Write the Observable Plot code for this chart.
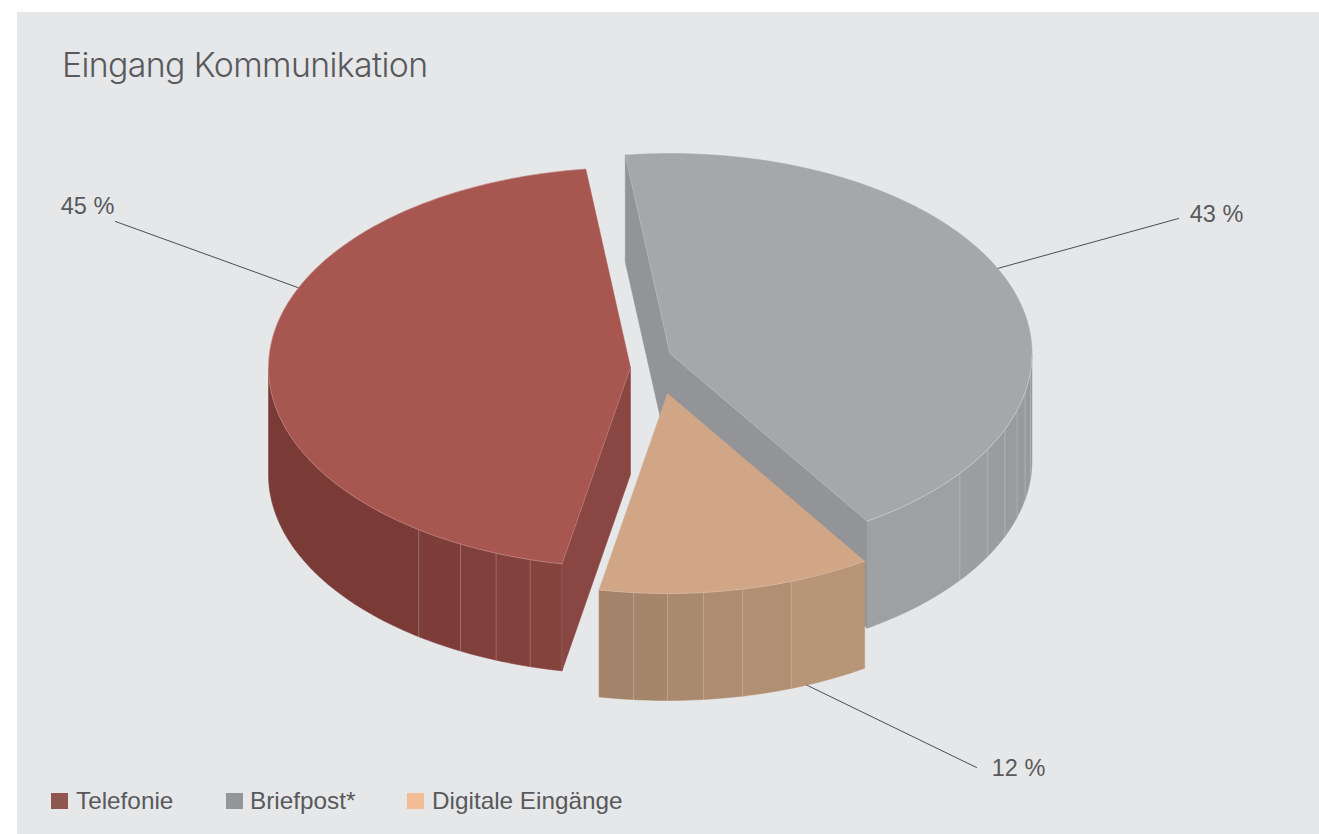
<!DOCTYPE html>
<html lang="de">
<head>
<meta charset="utf-8">
<script src="https://cdn.jsdelivr.net/npm/d3@7"></script>
<script src="https://cdn.jsdelivr.net/npm/@observablehq/plot@0.6"></script>
<style>
  html, body { margin: 0; padding: 0; background: #fff; }
  #panel { position: absolute; left: 17px; top: 12px; width: 1302px; height: 822px; background: #e6e7e9; color: #58595b; overflow: hidden; }
  #title { position: absolute; left: 45px; top: 30px; font: 300 33.8px/46px "Inter", sans-serif; letter-spacing: -0.6px; white-space: nowrap; }
  #chart { position: absolute; left: 0; top: 88px; }
  #legend { position: absolute; left: 34px; top: 775px; height: 28px; font: 24px/28px "Liberation Sans", sans-serif; }
  #legend span { position: absolute; top: 0; white-space: nowrap; transform: scaleX(1.013); transform-origin: left center; }
  #legend i { position: absolute; top: 6px; width: 17px; height: 16px; }
</style>
</head>
<body>
<div id="panel">
  <div id="title">Eingang Kommunikation</div>
  <div id="chart"></div>
  <div id="legend"></div>
</div>
<script>
// --- data ---
const categories = ["Telefonie", "Briefpost*", "Digitale Eingänge"];
const shares = [45, 42.8, 12.2];
const shareLabels = ["45 %", "43 %", "12 %"];
const legendColors = ["#8f564f", "#939598", "#f2bd94"];
const legendLefts = [34, 209, 390];
const legendGaps = [25, 24, 25];

// facet boundaries on the outer wall (degrees around the ellipse)
const facetsTelefonie = [100.9, 106.1, 111.8, 118, 125.8, 180];
const facetsBriefpost = [57, 36.8, 28.6, 22.3, 16.5, 11.2, 5, 0];
const facetsDigital = [57, 70, 78, 84.3, 90, 95.4, 100.9];

// top / cut wall / facet colours
const topColors = ["#a85750", "#a6a7aa", "#d1a686"];
const cutColors = ["#8a4643", "#939497", null];
const wallTelefonie = ["#85433e", "#83413d", "#813f3b", "#7f3d39", "#7a3a35"];
const wallBriefpost = ["#9fa0a3", "#9d9ea1", "#9b9c9f", "#9a9b9e", "#999a9d", "#98999c", "#97989b"];
const wallDigital = ["#b79576", "#b18f72", "#ae8c6f", "#aa8a6e", "#a6866b", "#a3846a"];

// pie geometry in page units
const centers = [[630, 367], [669.5, 353], [667, 393]];
const rx = 362, ry = 200, depth = 107, startAngle = -97.1;

// leader lines: [from, to] in page units and label anchors
const leaderStart = [[115, 221], [1178, 218], [976, 767]];
const leaderEnd = [[300, 288], [997, 268], [805, 684]];
const labelAt = [[87, 206], [1216, 214], [1018, 768]];

// --- slice construction ---
const rad = d => d * Math.PI / 180;
const at = (c, t, dz = 0) => ({x: c[0] + rx * Math.cos(rad(t)), y: c[1] + ry * Math.sin(rad(t)) + dz});
const arc = (c, a, b, dz = 0) => {
  const n = Math.max(2, Math.ceil(Math.abs(b - a)));
  return d3.range(n + 1).map(i => at(c, a + (b - a) * i / n, dz));
};
const apex = (c, dz = 0) => ({x: c[0], y: c[1] + dz});

// order in the picture: Briefpost from the top clockwise, Digitale next, Telefonie last
const order = [1, 2, 0];
let t = startAngle;
const angle = {};
for (const i of order) { angle[i] = [t, t + shares[i] * 3.6]; t += shares[i] * 3.6; }

const poly = (pts, fill) => Plot.line([...pts, pts[0]], {x: "x", y: "y", fill, stroke: fill, strokeWidth: 0.5, curve: "linear"});
const edge = (pts, o = 0.4, w = 0.8) => Plot.line(pts, {x: "x", y: "y", stroke: "#ffffff", strokeOpacity: o, strokeWidth: w, curve: "linear"});
const wall = (c, a, b) => [...arc(c, a, b), ...arc(c, b, a, depth)];

const marks = [];
// leader lines sit behind the pie
categories.forEach((_, i) => {
  marks.push(Plot.line([
    {x: leaderStart[i][0], y: leaderStart[i][1]},
    {x: leaderEnd[i][0], y: leaderEnd[i][1]}
  ], {x: "x", y: "y", stroke: "#4d4d4f", strokeWidth: 1}));
});

// Telefonie
{
  const c = centers[0], [a, b] = angle[0];
  facetsTelefonie.slice(0, -1).forEach((f, j) => marks.push(poly(wall(c, f, facetsTelefonie[j + 1]), wallTelefonie[j])));
  facetsTelefonie.slice(0, -1).forEach(f => marks.push(edge([at(c, f), at(c, f, depth)], 0.22, 1)));
  const p = at(c, a);
  marks.push(poly([apex(c), p, at(c, a, depth), apex(c, depth)], cutColors[0]));
  marks.push(poly([apex(c), ...arc(c, a, b)], topColors[0]));
  marks.push(edge([...arc(c, a, b)], 0.25));
  marks.push(edge([apex(c), p], 0.2));
}
// Briefpost
{
  const c = centers[1], [a, b] = angle[1];
  facetsBriefpost.slice(0, -1).forEach((f, j) => marks.push(poly(wall(c, f, facetsBriefpost[j + 1]), wallBriefpost[j])));
  facetsBriefpost.slice(0, -1).forEach(f => marks.push(edge([at(c, f), at(c, f, depth)], 0.2, 1)));
  marks.push(poly([at(c, a), apex(c), apex(c, depth), at(c, a, depth)], cutColors[1]));
  marks.push(poly([apex(c), at(c, b), at(c, b, depth), apex(c, depth)], cutColors[1]));
  marks.push(poly([apex(c), ...arc(c, a, b)], topColors[1]));
  marks.push(edge(arc(c, 0, b), 0.4));
  marks.push(edge([apex(c), at(c, b)], 0.2));
  marks.push(edge([apex(c), at(c, a)], 0.2));
}
// Digitale Eingänge
{
  const c = centers[2], [a, b] = angle[2];
  facetsDigital.slice(0, -1).forEach((f, j) => marks.push(poly(wall(c, f, facetsDigital[j + 1]), wallDigital[j])));
  facetsDigital.slice(1, -1).forEach(f => marks.push(edge([at(c, f), at(c, f, depth)], 0.2, 1)));
  marks.push(poly([apex(c), ...arc(c, a, b)], topColors[2]));
  marks.push(edge(arc(c, a, b), 0.2));
}
// value labels
marks.push(Plot.text(shareLabels.map((s, i) => ({s, x: labelAt[i][0], y: labelAt[i][1]})), {
  x: "x", y: "y", text: "s", fill: "#58595b", fontSize: 23.5, fontFamily: "Liberation Sans", textAnchor: "middle"
}));

const svgTop = 100, svgHeight = 680;
const plot = Plot.plot({
  width: 1302, height: svgHeight,
  margin: 0, marginTop: 0, marginRight: 0, marginBottom: 0, marginLeft: 0,
  style: {background: "transparent", overflow: "visible"},
  x: {domain: [17, 1319], range: [0, 1302], axis: null},
  y: {domain: [svgTop, svgTop + svgHeight], range: [0, svgHeight], axis: null},
  marks
});
document.getElementById("chart").appendChild(plot);

// legend below the SVG
const legend = document.getElementById("legend");
categories.forEach((name, i) => {
  const s = document.createElement("i");
  s.style.left = (legendLefts[i] - 34) + "px";
  s.style.background = legendColors[i];
  legend.appendChild(s);
  const l = document.createElement("span");
  l.textContent = name;
  l.style.left = (legendLefts[i] - 34 + legendGaps[i]) + "px";
  legend.appendChild(l);
});
</script>
</body>
</html>
